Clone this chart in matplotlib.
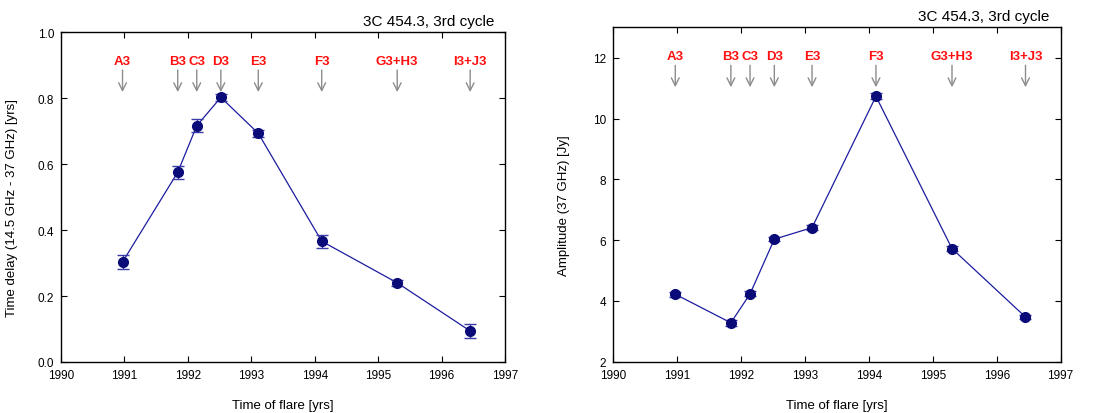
import matplotlib
matplotlib.use('Agg')
import matplotlib.pyplot as plt

plt.rcParams['font.family'] = ['Liberation Sans', 'DejaVu Sans']

# flare components, epochs and measured values
flares = ["A3", "B3", "C3", "D3", "E3", "F3", "G3+H3", "I3+J3"]
flare_epoch = [1990.97, 1991.84, 1992.14, 1992.52, 1993.11, 1994.11, 1995.30, 1996.45]

delay = [0.303, 0.575, 0.716, 0.802, 0.693, 0.366, 0.240, 0.094]
delay_err = [0.020, 0.020, 0.019, 0.010, 0.010, 0.020, 0.010, 0.022]

amplitude = [4.22, 3.28, 4.23, 6.03, 6.41, 10.73, 5.72, 3.47]
amplitude_err = [0.08, 0.10, 0.08, 0.07, 0.08, 0.10, 0.08, 0.08]

TITLE = "3C 454.3, 3rd cycle"
POINT_COLOR = "#0a0a78"
LINE_COLOR = "#1c1ca0"


def draw_panel(ax, y, yerr, ylim, yticks, ylabel, label_y, arrow_top, arrow_bot):
    ax.plot(flare_epoch, y, color=LINE_COLOR, lw=0.9, zorder=2)
    ax.errorbar(flare_epoch, y, yerr=yerr, fmt='o', ms=7, color=POINT_COLOR,
                ecolor="#3a3aa8", elinewidth=1.0, capsize=4, capthick=1.0, zorder=3)

    for name, x in zip(flares, flare_epoch):
        ax.text(x, label_y, name, color="#ff1010", fontsize=9.5, fontweight='bold',
                ha='center', va='center')
        ax.annotate("", xy=(x, arrow_bot), xytext=(x, arrow_top),
                    arrowprops=dict(arrowstyle="->", color="#8c8c8c", lw=1.0,
                                    mutation_scale=14, shrinkA=0, shrinkB=0))

    ax.set_xlim(1990, 1997)
    ax.set_ylim(*ylim)
    ax.set_xticks(range(1990, 1998))
    ax.set_yticks(yticks)
    ax.tick_params(direction='in', top=True, right=True, length=4, width=0.8,
                   labelsize=8.5, pad=5)
    for s in ax.spines.values():
        s.set_linewidth(1.0)
    ax.set_xlabel("Time of flare [yrs]", fontsize=9.5)
    ax.set_ylabel(ylabel, fontsize=9.5)
    ax.xaxis.set_label_coords(0.5, -0.112)
    ax.yaxis.set_label_coords(-0.097, 0.47)
    ax.text(0.975, 1.012, TITLE, transform=ax.transAxes, ha='right', va='bottom',
            fontsize=11)


fig = plt.figure(figsize=(11.09, 4.14), dpi=100)
ax1 = fig.add_axes([0.055, 0.1232, 0.4004, 0.797])
ax2 = fig.add_axes([0.553, 0.1239, 0.4034, 0.8077])

draw_panel(ax1, delay, delay_err, (0.0, 1.0), [0.0, 0.2, 0.4, 0.6, 0.8, 1.0],
           "Time delay (14.5 GHz - 37 GHz) [yrs]", 0.912, 0.885, 0.818)
ax1.set_yticklabels(["0.0", "0.2", "0.4", "0.6", "0.8", "1.0"])

draw_panel(ax2, amplitude, amplitude_err, (2, 13), [2, 4, 6, 8, 10, 12],
           "Amplitude (37 GHz) [Jy]", 12.05, 11.75, 11.03)

fig.savefig("out.png", dpi=100)
